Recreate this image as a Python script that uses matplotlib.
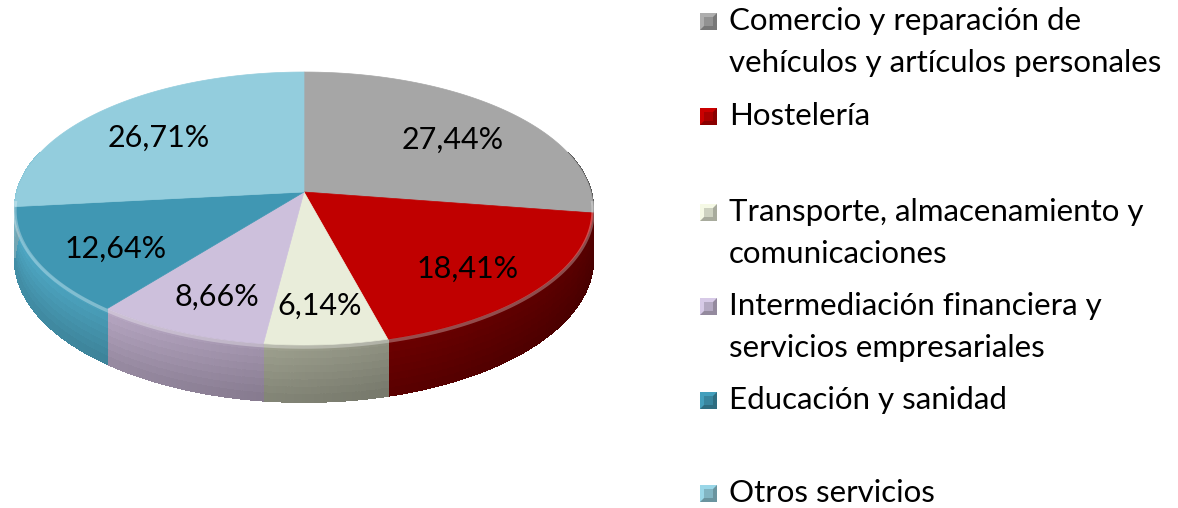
import numpy as np
import matplotlib.pyplot as plt
from matplotlib.patches import Polygon
from matplotlib.collections import PolyCollection

# datos del grafico (porcentajes por sector)
sectores = [
    "Comercio y reparación de\nvehículos y artículos personales",
    "Hostelería",
    "Transporte, almacenamiento y\ncomunicaciones",
    "Intermediación financiera y\nservicios empresariales",
    "Educación y sanidad",
    "Otros servicios",
]
porcentajes = [27.44, 18.41, 6.14, 8.66, 12.64, 26.71]
etiquetas = ["27,44%", "18,41%", "6,14%", "8,66%", "12,64%", "26,71%"]
colores = ["#a6a6a6", "#c00000", "#e9edda", "#cdc0dc", "#4097b3", "#93cddd"]
colores_lado = ["#8c8c8c", "#8a0000", "#b4b7a3", "#b8a8c4", "#4a9fba", "#7fb9c9"]

plt.rcParams['font.family'] = ['Lato', 'DejaVu Sans']

# geometria del pastel en pixeles (perspectiva simple)
cx, cy = 304, 192
rx, ry = 287, 134.5
k = 0.121
grosor = 50


def proyecta(t, r=1.0, z=0.0):
    X = r * np.cos(t)
    Y = r * np.sin(t)
    p = 1.0 / (1.0 + k * Y)
    x = cx + rx * X * p
    y = cy - ry * Y * p + grosor * z * p
    return x, y


def sombra(hexcol, f):
    c = np.array(plt.matplotlib.colors.to_rgb(hexcol))
    return np.clip(c * f, 0, 1)


fig = plt.figure(figsize=(11.78, 5.08), dpi=100)
ax = fig.add_axes([0, 0, 1, 1])
ax.set_xlim(0, 1178)
ax.set_ylim(508, 0)
ax.axis('off')

vals = np.array(porcentajes)
bordes = np.deg2rad(90 - 360 * np.concatenate([[0], np.cumsum(vals)]) / vals.sum())

# lados del cilindro: franjas sombreadas segun el angulo,
# con degradado vertical suave (mas oscuro abajo)
zs = np.linspace(0, 1, 9)
polys, cols = [], []
for i in range(len(vals)):
    t0, t1 = bordes[i], bordes[i + 1]
    ts = np.linspace(t0, t1, max(int(abs(t1 - t0) / np.deg2rad(0.5)), 2))
    for a, b in zip(ts[:-1], ts[1:]):
        tm = 0.5 * (a + b)
        if np.sin(tm) > 0.3:
            continue
        f = 0.82 - 0.22 * np.cos(tm)
        for z0, z1 in zip(zs[:-1], zs[1:]):
            g = 1.05 - 0.2 * (0.5 * (z0 + z1))
            xa, ya = proyecta(a, z=z0)
            xb, yb = proyecta(b, z=z0)
            xc, yc = proyecta(b, z=z1)
            xd, yd = proyecta(a, z=z1)
            polys.append([(xa, ya), (xb, yb), (xc, yc), (xd, yd)])
            cols.append(sombra(colores_lado[i], f * g))
ax.add_collection(PolyCollection(polys, facecolors=cols, edgecolors=cols,
                                 linewidths=0.8, antialiaseds=False, zorder=1))

# caras superiores
for i in range(len(vals)):
    ts = np.linspace(bordes[i], bordes[i + 1], 120)
    xs, ys = proyecta(ts)
    pts = [(cx, cy)] + list(zip(xs, ys))
    ax.add_patch(Polygon(pts, closed=True, facecolor=colores[i],
                         edgecolor=colores[i], linewidth=0.5, zorder=2))
    # brillo del bisel en el borde frontal
    frente = np.sin(ts) < -0.05
    if frente.any():
        ax.plot(xs[frente], ys[frente] + 2, color='white', alpha=0.3,
                linewidth=2.5, zorder=3, solid_capstyle='butt')

# etiquetas de porcentaje
for i in range(len(vals)):
    tm = 0.5 * (bordes[i] + bordes[i + 1])
    x, y = proyecta(tm, r=0.72, z=0.15)
    ax.text(x, y, etiquetas[i], fontsize=22, ha='center', va='center',
            color='black', zorder=4)

# leyenda manual con marcadores biselados
y_ley = [21, 116, 212, 306, 400, 493]
for i, (lab, y) in enumerate(zip(sectores, y_ley)):
    x0, x1, y0, y1 = 700, 717, y - 8, y + 9
    ax.add_patch(Polygon([(x0, y0), (x1, y0), (x1, y1), (x0, y1)],
                         closed=True, facecolor=sombra(colores[i], 1.05),
                         edgecolor='none'))
    ax.add_patch(Polygon([(x1, y0), (x1, y1), (x0, y1)],
                         closed=True, facecolor=sombra(colores[i], 0.72),
                         edgecolor='none'))
    ax.add_patch(Polygon([(x0 + 4, y0 + 4), (x1 - 4, y0 + 4), (x1 - 4, y1 - 4),
                          (x0 + 4, y1 - 4)],
                         closed=True, facecolor=sombra(colores[i], 0.88),
                         edgecolor='none'))
    for j, linea in enumerate(lab.split('\n')):
        ax.text(729, y + 42 * j, linea, fontsize=22.5, ha='left',
                va='center', color='black')

fig.savefig('out.png', dpi=100)
